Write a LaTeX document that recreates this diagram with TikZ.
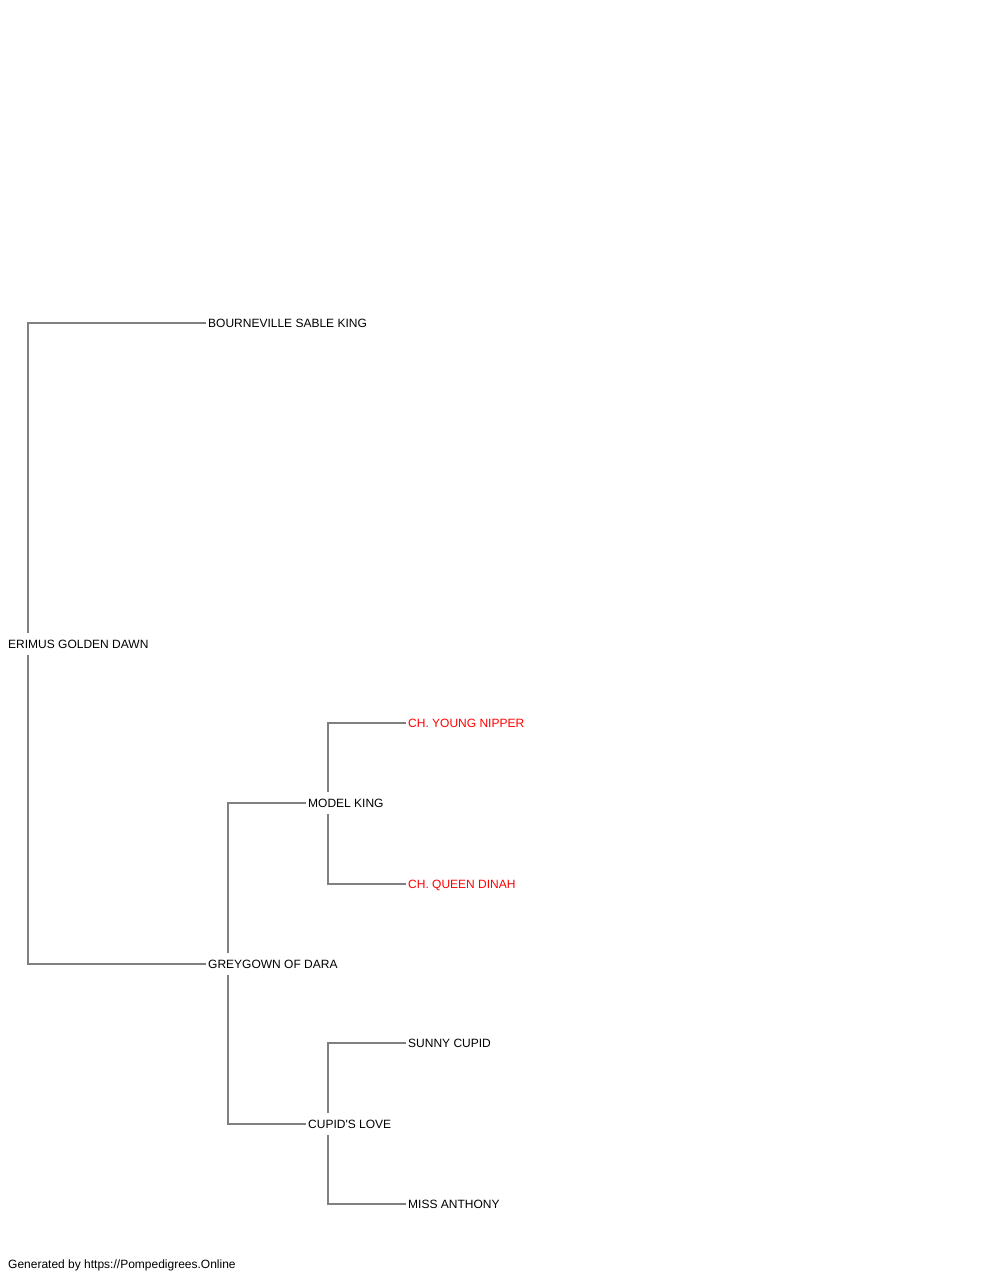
\documentclass[tikz,border=0pt]{standalone}
\usepackage{fontspec}
\setmainfont{Liberation Sans}
\usetikzlibrary{backgrounds}

\tikzset{
	dog/.style={anchor=west, fill=white, inner xsep=2pt, inner ysep=6.7pt,
		text height=8.6pt, text depth=0pt, font=\fontsize{12}{14}\selectfont},
	champ/.style={dog, text=red},
	link/.style={draw=gray, line width=1.5pt}
}

\begin{document}
\begin{tikzpicture}[x=1pt, y=-1pt]
		\useasboundingbox (0, 0) rectangle (1000, 1280);
	
		% dogs
		\node[dog] (erimus) at (6, 644) {ERIMUS GOLDEN DAWN};
		\node[dog] (bourneville) at (206, 323) {BOURNEVILLE SABLE KING};
		\node[dog] (greygown) at (206, 964) {GREYGOWN OF DARA};
		\node[dog] (model) at (306, 803) {MODEL KING};
		\node[champ] (nipper) at (406, 723) {CH. YOUNG NIPPER};
		\node[champ] (dinah) at (406, 884) {CH. QUEEN DINAH};
		\node[dog] (cupid) at (306, 1124) {CUPID\textquotesingle S LOVE};
		\node[dog] (sunny) at (406, 1043) {SUNNY CUPID};
		\node[dog] (anthony) at (406, 1204) {MISS ANTHONY};
	
		% where the branches fork
		\coordinate (erimusfork) at (28, 644);
		\coordinate (greygownfork) at (228, 964);
		\coordinate (modelfork) at (328, 803);
		\coordinate (cupidfork) at (328, 1124);
	
		\begin{scope}[on background layer]
			\fill[white] (0, 0) rectangle (1000, 1280);
			\draw[link] (bourneville.west) -| (erimusfork) |- (greygown.west);
			\draw[link] (model.west) -| (greygownfork) |- (cupid.west);
			\draw[link] (nipper.west) -| (modelfork) |- (dinah.west);
			\draw[link] (sunny.west) -| (cupidfork) |- (anthony.west);
		\end{scope}
	
		\node[dog, fill=none] (footer) at (6, 1264) {Generated by https://Pompedigrees.Online};
	\end{tikzpicture}
\end{document}
